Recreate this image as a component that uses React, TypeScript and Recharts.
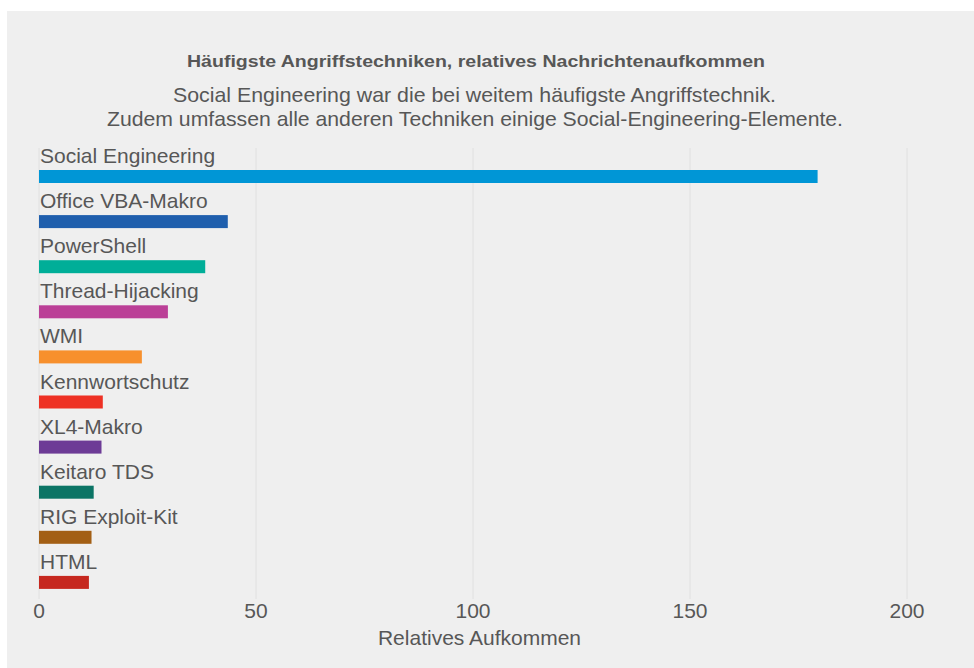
import React from 'react';
import { BarChart, Bar, XAxis, YAxis, CartesianGrid, LabelList } from 'recharts';

const categories = [
  'Social Engineering',
  'Office VBA-Makro',
  'PowerShell',
  'Thread-Hijacking',
  'WMI',
  'Kennwortschutz',
  'XL4-Makro',
  'Keitaro TDS',
  'RIG Exploit-Kit',
  'HTML',
];
const values = [179.4, 43.5, 38.3, 29.7, 23.7, 14.7, 14.4, 12.6, 12.1, 11.5];
const colors = [
  '#0096d6', '#1f5fad', '#00ae98', '#bb3f97', '#f7902d',
  '#ee3124', '#6d3b96', '#0b7465', '#a35f14', '#c6281f',
];
const xTicks = [0, 50, 100, 150, 200];

const title = 'Häufigste Angriffstechniken, relatives Nachrichtenaufkommen';
const subtitle1 = 'Social Engineering war die bei weitem häufigste Angriffstechnik.';
const subtitle2 = 'Zudem umfassen alle anderen Techniken einige Social-Engineering-Elemente.';
const xTitle = 'Relatives Aufkommen';

const data = categories.map((name, i) => ({ name, value: values[i], color: colors[i] }));

const TEXT = '#575757';
const FONT = '"Liberation Sans", Arial, Helvetica, sans-serif';
const SHIFT = 6;

const BarShape = (props: any) => {
  const { x, y, width, height, payload } = props;
  return <rect x={x} y={y + SHIFT} width={Math.max(0, width)} height={height} fill={payload.color} />;
};

const CatLabel = (props: any) => {
  const { y, value } = props;
  return (
    <text x={33} y={y + SHIFT - 7} fill={TEXT} fontSize={21} fontFamily={FONT}>
      {value}
    </text>
  );
};

export default function App() {
  return (
    <div style={{ position: 'absolute', left: 7, top: 11, width: 967, height: 657, background: '#efefef', fontFamily: FONT }}>
      <BarChart
        width={967}
        height={657}
        data={data}
        layout="vertical"
        margin={{ top: 137, right: 67, bottom: 39, left: 32 }}
        barSize={13}
      >
        <CartesianGrid horizontal={false} vertical={true} stroke="#e0e0e0" strokeWidth={1} />
        <XAxis
          type="number"
          domain={[0, 200]}
          ticks={xTicks}
          tickLine={false}
          axisLine={false}
          tickSize={0}
          tickMargin={4}
          height={30}
          tick={{ fill: TEXT, fontSize: 21, fontFamily: FONT }}
          interval={0}
        />
        <YAxis type="category" dataKey="name" hide />
        <Bar dataKey="value" isAnimationActive={false} shape={BarShape}>
          <LabelList dataKey="name" content={CatLabel} />
        </Bar>
      </BarChart>
      <svg width={967} height={657} style={{ position: 'absolute', left: 0, top: 0, pointerEvents: 'none' }}>
        <text x={469} y={56} textAnchor="middle" fill={TEXT} fontSize={17} fontWeight="bold" fontFamily={FONT}
          textLength={578} lengthAdjust="spacingAndGlyphs">
          {title}
        </text>
        <text x={467.5} y={91} textAnchor="middle" fill={TEXT} fontSize={21} fontFamily={FONT}
          textLength={603} lengthAdjust="spacingAndGlyphs">
          {subtitle1}
        </text>
        <text x={468} y={115} textAnchor="middle" fill={TEXT} fontSize={21} fontFamily={FONT}
          textLength={736} lengthAdjust="spacingAndGlyphs">
          {subtitle2}
        </text>
        <text x={472.5} y={634} textAnchor="middle" fill={TEXT} fontSize={21} fontFamily={FONT}>
          {xTitle}
        </text>
      </svg>
    </div>
  );
}
